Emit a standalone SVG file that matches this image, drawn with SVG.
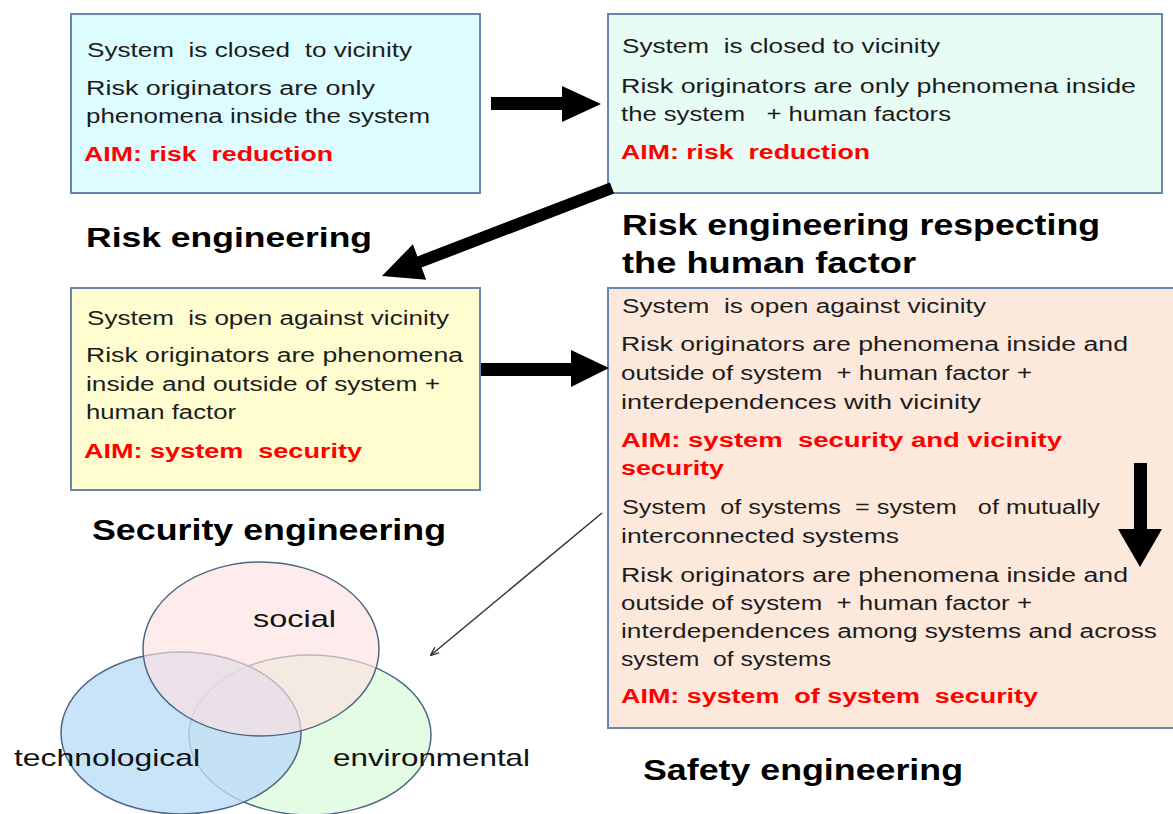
<svg xmlns="http://www.w3.org/2000/svg" width="1173" height="814" viewBox="0 0 1173 814">
<defs>
<style>
.box{stroke:#6a86ac;stroke-width:2}
.t{font-family:"Liberation Sans",Arial,sans-serif;font-size:20px;fill:#1c1c1c;white-space:pre}
.aim{font-family:"Liberation Sans",Arial,sans-serif;font-size:20px;font-weight:bold;fill:#ff0000;white-space:pre}
.title{font-family:"Liberation Sans",Arial,sans-serif;font-weight:bold;fill:#000}
.venn{font-family:"Liberation Sans",Arial,sans-serif;font-size:24px;fill:#111}
.ell{stroke:#4d6785;stroke-width:1.5}
.big{fill:#000}
</style>
<marker id="thin" viewBox="0 0 10 10" refX="9" refY="5" markerWidth="9" markerHeight="9" orient="auto" markerUnits="userSpaceOnUse">
<path d="M0,1 L10,5 L0,9" fill="none" stroke="#333" stroke-width="1.5"/>
</marker>
</defs>
<rect width="1173" height="814" fill="#fff"/>

<g id="box1">
<rect class="box" x="71" y="14" width="409" height="179" fill="#dcfcff"/>
<text class="t" x="87" y="57" textLength="325" lengthAdjust="spacingAndGlyphs">System  is closed  to vicinity</text>
<text class="t" x="86" y="95" textLength="289" lengthAdjust="spacingAndGlyphs">Risk originators are only</text>
<text class="t" x="86" y="123" textLength="344" lengthAdjust="spacingAndGlyphs">phenomena inside the system</text>
<text class="aim" x="84" y="161" textLength="249" lengthAdjust="spacingAndGlyphs">AIM: risk  reduction</text>
</g>
<g id="label1">
<text class="title" x="86" y="247" font-size="27" textLength="286" lengthAdjust="spacingAndGlyphs">Risk engineering</text>
</g>

<g id="box2">
<rect class="box" x="608" y="14" width="554" height="179" fill="#e6fcf4"/>
<text class="t" x="622" y="53" textLength="318" lengthAdjust="spacingAndGlyphs">System  is closed to vicinity</text>
<text class="t" x="621" y="93" textLength="515" lengthAdjust="spacingAndGlyphs">Risk originators are only phenomena inside</text>
<text class="t" x="621" y="121" textLength="330" lengthAdjust="spacingAndGlyphs">the system   + human factors</text>
<text class="aim" x="621" y="159" textLength="249" lengthAdjust="spacingAndGlyphs">AIM: risk  reduction</text>
</g>
<g id="label2">
<text class="title" x="622" y="235" font-size="30" textLength="478" lengthAdjust="spacingAndGlyphs">Risk engineering respecting</text>
<text class="title" x="622" y="273" font-size="30" textLength="294" lengthAdjust="spacingAndGlyphs">the human factor</text>
</g>

<g id="box3">
<rect class="box" x="71" y="288" width="409" height="202" fill="#fffdcf"/>
<text class="t" x="87" y="325" textLength="362" lengthAdjust="spacingAndGlyphs">System  is open against vicinity</text>
<text class="t" x="86" y="362" textLength="377" lengthAdjust="spacingAndGlyphs">Risk originators are phenomena</text>
<text class="t" x="86" y="391" textLength="354" lengthAdjust="spacingAndGlyphs">inside and outside of system +</text>
<text class="t" x="86" y="419" textLength="150" lengthAdjust="spacingAndGlyphs">human factor</text>
<text class="aim" x="84" y="458" textLength="278" lengthAdjust="spacingAndGlyphs">AIM: system  security</text>
</g>
<g id="label3">
<text class="title" x="92" y="540" font-size="29" textLength="354" lengthAdjust="spacingAndGlyphs">Security engineering</text>
</g>

<g id="box4">
<rect class="box" x="608" y="288" width="575" height="440" fill="#fde9dc"/>
<text class="t" x="622" y="313" textLength="364" lengthAdjust="spacingAndGlyphs">System  is open against vicinity</text>
<text class="t" x="621" y="351" textLength="507" lengthAdjust="spacingAndGlyphs">Risk originators are phenomena inside and</text>
<text class="t" x="621" y="380" textLength="411" lengthAdjust="spacingAndGlyphs">outside of system  + human factor +</text>
<text class="t" x="621" y="409" textLength="360" lengthAdjust="spacingAndGlyphs">interdependences with vicinity</text>
<text class="aim" x="621" y="447" textLength="441" lengthAdjust="spacingAndGlyphs">AIM: system  security and vicinity</text>
<text class="aim" x="621" y="475" textLength="103" lengthAdjust="spacingAndGlyphs">security</text>
<text class="t" x="622" y="514" textLength="478" lengthAdjust="spacingAndGlyphs">System  of systems  = system   of mutually</text>
<text class="t" x="621" y="543" textLength="278" lengthAdjust="spacingAndGlyphs">interconnected systems</text>
<text class="t" x="621" y="582" textLength="507" lengthAdjust="spacingAndGlyphs">Risk originators are phenomena inside and</text>
<text class="t" x="621" y="610" textLength="411" lengthAdjust="spacingAndGlyphs">outside of system  + human factor +</text>
<text class="t" x="621" y="638" textLength="536" lengthAdjust="spacingAndGlyphs">interdependences among systems and across</text>
<text class="t" x="621" y="666" textLength="210" lengthAdjust="spacingAndGlyphs">system  of systems</text>
<text class="aim" x="621" y="703" textLength="417" lengthAdjust="spacingAndGlyphs">AIM: system  of system  security</text>
</g>
<g id="label4">
<text class="title" x="643" y="780" font-size="29" textLength="320" lengthAdjust="spacingAndGlyphs">Safety engineering</text>
</g>

<g id="venn">
<ellipse class="ell" cx="310" cy="735" rx="121" ry="80" fill="#e4fbe4"/>
<ellipse class="ell" cx="181" cy="733" rx="120" ry="81" fill="#bcdcf8" fill-opacity="0.8"/>
<ellipse class="ell" cx="261" cy="649" rx="118" ry="87" fill="#fde0e0" fill-opacity="0.65"/>
<text class="venn" x="253" y="627" textLength="83" lengthAdjust="spacingAndGlyphs">social</text>
<text class="venn" x="14" y="766" textLength="186" lengthAdjust="spacingAndGlyphs">technological</text>
<text class="venn" x="333" y="766" textLength="197" lengthAdjust="spacingAndGlyphs">environmental</text>
</g>

<g id="connectors">
<polygon class="big" points="491,97 562,97 562,86 601,104 562,122 562,110 491,110"/>
<polygon class="big" points="614.1,193.6 421.6,267.6 426.2,279.8 382,276 412.9,244.2 417.4,256.4 609.9,182.4"/>
<polygon class="big" points="481,363 571,363 571,350 609,368 571,387 571,376 481,376"/>
<polygon class="big" points="1134,463 1147,463 1147,529 1162,529 1140,567 1118,529 1134,529"/>
<line x1="602" y1="513" x2="431" y2="655" stroke="#333" stroke-width="1.5" marker-end="url(#thin)"/>
</g>
</svg>
